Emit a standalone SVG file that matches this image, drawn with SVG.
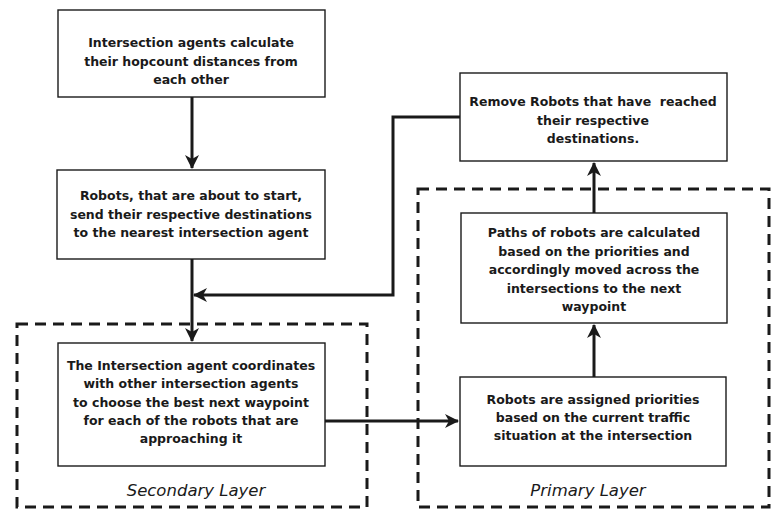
<svg xmlns="http://www.w3.org/2000/svg" width="772" height="509" viewBox="0 0 772 509">
<style>
.box{fill:#fff;stroke:#1a1a1a;stroke-width:1.4}
.t{font-family:"DejaVu Sans",Verdana,sans-serif;font-weight:bold;font-size:12.5px;fill:#1a1a1a;text-anchor:middle}
.lay{font-family:"DejaVu Sans",Verdana,sans-serif;font-style:italic;font-size:16.5px;fill:#1a1a1a;text-anchor:middle}
.dash{fill:none;stroke:#1a1a1a;stroke-width:3;stroke-dasharray:11 7}
.c{fill:none;stroke:#1a1a1a;stroke-width:3}
</style>
<defs>
<marker id="ah" markerUnits="userSpaceOnUse" markerWidth="16" markerHeight="14" refX="13" refY="7" orient="auto">
<path d="M0,0 L14,7 L0,14 L4,7 Z" fill="#1a1a1a"/>
</marker>
</defs>
<g id="layers">
<rect class="dash" x="17" y="324" width="350" height="183"/>
<rect class="dash" x="418" y="189" width="351" height="318"/>
<text class="lay" x="196" y="496">Secondary Layer</text>
<text class="lay" x="588" y="496">Primary Layer</text>
</g>
<g id="connectors">
<path class="c" d="M192,97 V168" marker-end="url(#ah)"/>
<path class="c" d="M192,259 V341" marker-end="url(#ah)"/>
<path class="c" d="M460,117 H393 V295 H194" marker-end="url(#ah)"/>
<path class="c" d="M325,421 H458" marker-end="url(#ah)"/>
<path class="c" d="M594,377 V325" marker-end="url(#ah)"/>
<path class="c" d="M594,213 V163" marker-end="url(#ah)"/>
</g>
<g id="n1">
<rect class="box" x="58" y="10" width="267" height="87"/>
<text class="t" x="191" y="47">Intersection agents calculate</text>
<text class="t" x="191" y="66">their hopcount distances from</text>
<text class="t" x="191" y="84">each other</text>
</g>
<g id="n2">
<rect class="box" x="57" y="170" width="268" height="89"/>
<text class="t" x="191" y="200">Robots, that are about to start,</text>
<text class="t" x="191" y="219">send their respective destinations</text>
<text class="t" x="191" y="237">to the nearest intersection agent</text>
</g>
<g id="n3">
<rect class="box" x="58" y="343" width="267" height="123"/>
<text class="t" x="191" y="370">The Intersection agent coordinates</text>
<text class="t" x="191" y="388">with other intersection agents</text>
<text class="t" x="191" y="407">to choose the best next waypoint</text>
<text class="t" x="191" y="425">for each of the robots that are</text>
<text class="t" x="191" y="443">approaching it</text>
</g>
<g id="n4">
<rect class="box" x="460" y="377" width="266" height="89"/>
<text class="t" x="593" y="404">Robots are assigned priorities</text>
<text class="t" x="593" y="422">based on the current traffic</text>
<text class="t" x="593" y="440">situation at the intersection</text>
</g>
<g id="n5">
<rect class="box" x="461" y="213" width="266" height="110"/>
<text class="t" x="594" y="237">Paths of robots are calculated</text>
<text class="t" x="594" y="256">based on the priorities and</text>
<text class="t" x="594" y="274">accordingly moved across the</text>
<text class="t" x="594" y="293">intersections to the next</text>
<text class="t" x="594" y="311">waypoint</text>
</g>
<g id="n6">
<rect class="box" x="460" y="73" width="267" height="88"/>
<text class="t" x="593" y="106" xml:space="preserve">Remove Robots that have  reached</text>
<text class="t" x="593" y="125">their respective</text>
<text class="t" x="593" y="143">destinations.</text>
</g>
</svg>
